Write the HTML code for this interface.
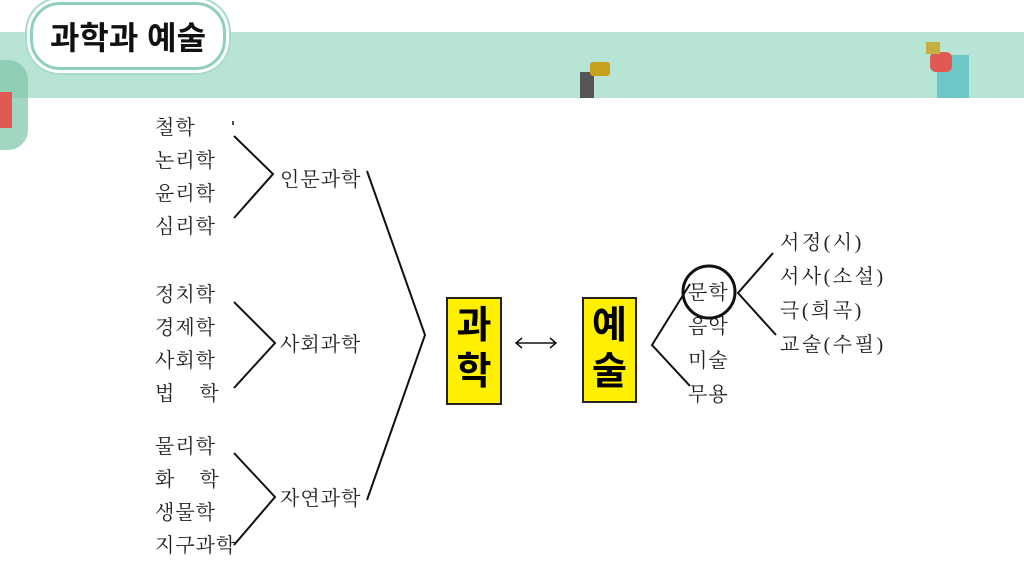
<!DOCTYPE html>
<html><head><meta charset="utf-8"><style>
body{margin:0;width:1024px;height:576px;background:#fff;position:relative;overflow:hidden;font-family:"Liberation Serif","Noto Serif CJK SC",serif;}
.t{position:absolute;font-size:20px;letter-spacing:1px;color:#222;line-height:24px;white-space:nowrap}
.r{letter-spacing:2.5px}
.band{position:absolute;left:0;top:32px;width:1024px;height:66px;background:#b7e4d4}
.title{position:absolute;left:30px;top:2px;width:190px;height:62px;background:#fff;border:3px solid #8fd0bb;border-radius:30px;box-shadow:0 0 0 3px #fff,0 0 0 5px #a8dcc9;}
.title span{position:absolute;left:0;width:100%;top:8px;text-align:center;font:bold 32px "Liberation Sans","Noto Sans CJK KR",sans-serif;color:#111}
.yb{position:absolute;background:#ffef00;border:2px solid #222;font:bold 38px "Liberation Sans","Noto Sans CJK KR",sans-serif;text-align:center;line-height:46px;color:#000}
</style></head><body>
<div class="band"></div>
<div class="title"><span>과학과 예술</span></div>
<div style="position:absolute;left:937px;top:55px;width:32px;height:43px;background:#6cc7c7"></div>
<div style="position:absolute;left:930px;top:52px;width:22px;height:20px;background:#e05a55;border-radius:6px"></div>
<div style="position:absolute;left:926px;top:42px;width:14px;height:12px;background:#c8b040"></div>
<div style="position:absolute;left:580px;top:72px;width:14px;height:26px;background:#555"></div>
<div style="position:absolute;left:590px;top:62px;width:20px;height:14px;background:#c8a020;border-radius:3px"></div>
<div style="position:absolute;left:0;top:60px;width:28px;height:90px;background:#7cc6a8;border-radius:0 20px 20px 0;opacity:.7"></div>
<div style="position:absolute;left:0;top:92px;width:12px;height:36px;background:#e05a55"></div>

<div class="t" style="left:155px;top:116px">철학</div>
<div class="t" style="left:155px;top:149px">논리학</div>
<div class="t" style="left:155px;top:182px">윤리학</div>
<div class="t" style="left:155px;top:215px">심리학</div>
<div class="t" style="left:280px;top:168px">인문과학</div>
<div class="t" style="left:155px;top:283px">정치학</div>
<div class="t" style="left:155px;top:316px">경제학</div>
<div class="t" style="left:155px;top:349px">사회학</div>
<div class="t" style="left:155px;top:382px">법&nbsp;&nbsp;&nbsp;&nbsp;학</div>
<div class="t" style="left:280px;top:333px">사회과학</div>
<div class="t" style="left:155px;top:435px">물리학</div>
<div class="t" style="left:155px;top:468px">화&nbsp;&nbsp;&nbsp;&nbsp;학</div>
<div class="t" style="left:155px;top:501px">생물학</div>
<div class="t" style="left:155px;top:534px">지구과학</div>
<div class="t" style="left:280px;top:487px">자연과학</div>

<div class="t" style="left:688px;top:281px">문학</div>
<div class="t" style="left:688px;top:315px">음악</div>
<div class="t" style="left:688px;top:349px">미술</div>
<div class="t" style="left:688px;top:383px">무용</div>
<div class="t r" style="left:780px;top:231px">서정(시)</div>
<div class="t r" style="left:780px;top:265px">서사(소설)</div>
<div class="t r" style="left:780px;top:299px">극(희곡)</div>
<div class="t r" style="left:780px;top:333px">교술(수필)</div>

<div class="yb" style="left:446px;top:297px;width:52px;height:100px;padding-top:4px">과<br>학</div>
<div class="yb" style="left:582px;top:297px;width:51px;height:98px;padding-top:4px">예<br>술</div>

<svg width="1024" height="576" style="position:absolute;left:0;top:0" fill="none" stroke="#111" stroke-width="2">
<line x1="233" y1="121" x2="233" y2="125" stroke-width="1.5"/>
<polyline points="234,136 273,174 234,218"/>
<polyline points="234,302 275,343 234,388"/>
<polyline points="234,453 275,497 234,545"/>
<polyline points="367,171 425,335 367,500"/>
<polyline points="690,284 652,345 690,386"/>
<polyline points="773,253 738,293 776,335"/>
<circle cx="709" cy="292" r="26" stroke-width="3"/>
<line x1="516" y1="343" x2="556" y2="343" stroke-width="1.5"/>
<polyline points="522,338 516,343 522,348" stroke-width="1.5"/>
<polyline points="550,338 556,343 550,348" stroke-width="1.5"/>
</svg>
</body></html>
